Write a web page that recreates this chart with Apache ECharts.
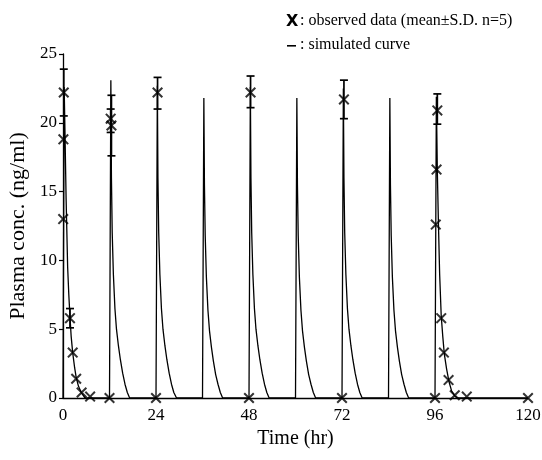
<!DOCTYPE html>
<html>
<head>
<meta charset="utf-8">
<script src="https://cdn.jsdelivr.net/npm/echarts@6/dist/echarts.min.js"></script>
<style>
html,body{margin:0;padding:0;background:#fff;}
#chart{width:542px;height:460px;}
</style>
</head>
<body>
<div id="chart"></div>
<script>
// ---- Data ----
const xTicks = [0, 24, 48, 72, 96, 120];
const yTicks = [0, 5, 10, 15, 20, 25];

// simulated curve (time hr, conc ng/ml)
const simCurve = [
  [0,0],[0.3,22.6],[0.5,19.5],[0.8,14.5],[1.2,9.5],[1.5,7.5],[1.8,5.9],[2.1,4.5],[2.5,3.3],[3.0,2.2],[3.4,1.5],[4.0,0.85],[4.8,0.35],[5.7,0],
  [12,0],[12.35,23.1],[12.5,16],[12.7,12],[13.0,9],[13.4,6.5],[13.8,5.0],[14.3,3.8],[14.8,2.8],[15.4,1.8],[16.0,1.0],[16.6,0.4],[17.2,0],
  [24,0],[24.35,22.7],[24.5,16],[24.7,12],[25.0,9],[25.4,6.5],[25.8,5.0],[26.3,3.8],[26.8,2.8],[27.4,1.8],[28.0,1.0],[28.6,0.4],[29.3,0],
  [36,0],[36.35,21.8],[36.5,15.5],[36.7,11.8],[37.0,8.8],[37.4,6.4],[37.8,4.9],[38.3,3.7],[38.8,2.7],[39.4,1.7],[40.0,1.0],[40.6,0.4],[41.2,0],
  [48,0],[48.35,22.6],[48.5,16],[48.7,12],[49.0,9],[49.4,6.5],[49.8,5.0],[50.3,3.8],[50.8,2.8],[51.4,1.8],[52.0,1.0],[52.6,0.4],[53.2,0],
  [60,0],[60.35,21.8],[60.5,15.5],[60.7,11.8],[61.0,8.8],[61.4,6.4],[61.8,4.9],[62.3,3.7],[62.8,2.7],[63.4,1.7],[64.0,1.0],[64.6,0.4],[65.2,0],
  [72,0],[72.35,22.5],[72.5,16],[72.7,12],[73.0,9],[73.4,6.5],[73.8,5.0],[74.3,3.8],[74.8,2.8],[75.4,1.8],[76.0,1.0],[76.6,0.4],[77.2,0],
  [84,0],[84.35,21.8],[84.5,15.5],[84.7,11.8],[85.0,8.8],[85.4,6.4],[85.8,4.9],[86.3,3.7],[86.8,2.7],[87.4,1.7],[88.0,1.0],[88.6,0.4],[89.2,0],
  [96,0],[96.35,21.9],[96.6,16.5],[96.9,12.5],[97.2,9],[97.6,6.0],[98.0,4.5],[98.4,3.2],[99.0,2.1],[99.6,1.2],[100.3,0.5],[101.1,0.15],[101.8,0],
  [120,0]
];

// observed data: time, mean, S.D. low, S.D. high (null = no bar)
const obsTime = [0.05, 0.1, 0.2, 1.8, 2.5, 3.4, 4.8, 7.0,
                 12, 12.3, 12.5,
                 24, 24.4,
                 48, 48.4,
                 72, 72.5,
                 96, 96.2, 96.4, 96.6, 97.6, 98.3, 99.5, 101.1, 104.2,
                 120];
const obsMean = [13.0, 18.8, 22.2, 5.8, 3.3, 1.4, 0.4, 0.1,
                 0, 20.3, 19.8,
                 0, 22.2,
                 0, 22.2,
                 0, 21.7,
                 0, 12.6, 16.6, 20.9, 5.8, 3.3, 1.3, 0.2, 0.1,
                 0];
const obsLow  = [null, null, 20.5, 5.1, null, null, null, null,
                 null, 19.3, 17.6,
                 null, 21.0,
                 null, 21.1,
                 null, 20.3,
                 null, null, null, 19.9, null, null, null, null, null,
                 null];
const obsHigh = [null, null, 23.9, 6.5, null, null, null, null,
                 null, 21.0, 22.0,
                 null, 23.3,
                 null, 23.4,
                 null, 23.1,
                 null, null, null, 22.1, null, null, null, null, null,
                 null];

// ---- Build the chart ----
const FONT = 'Liberation Serif';
const obsPoints = obsTime.map((t, i) => [t, obsMean[i]]);
const errBars = [];
obsTime.forEach((t, i) => { if (obsLow[i] !== null) errBars.push([t, obsLow[i], obsHigh[i]]); });

const crossPath = 'path://M0,1.3L1.3,0L5,3.7L8.7,0L10,1.3L6.3,5L10,8.7L8.7,10L5,6.3L1.3,10L0,8.7L3.7,5Z';

const chart = echarts.init(document.getElementById('chart'), null, {renderer: 'canvas'});
chart.setOption({
  animation: false,
  backgroundColor: '#fff',
  grid: {left: 63, right: 14, top: 54, bottom: 62, containLabel: false, outerBoundsMode: 'none'},
  xAxis: {
    type: 'value', min: 0, max: 120, interval: 24,
    name: 'Time (hr)', nameLocation: 'middle', nameGap: 28,
    nameTextStyle: {fontFamily: FONT, fontSize: 20, color: '#000'},
    axisLine: {lineStyle: {color: '#000', width: 1.3}},
    axisTick: {show: false},
    axisLabel: {fontFamily: FONT, fontSize: 17, color: '#000', margin: 9,
      formatter: v => xTicks.includes(v) ? String(v) : ''},
    splitLine: {show: false}
  },
  yAxis: {
    type: 'value', min: 0, max: 25, interval: 5,
    name: 'Plasma conc. (ng/ml)', nameLocation: 'middle', nameGap: 34,
    nameTextStyle: {fontFamily: FONT, fontSize: 22, color: '#000'},
    axisLine: {show: true, lineStyle: {color: '#000', width: 1.3}},
    axisTick: {show: true, length: 4, lineStyle: {color: '#000', width: 1.2}},
    axisLabel: {fontFamily: FONT, fontSize: 17, color: '#000', margin: 6,
      formatter: v => yTicks.includes(v) ? String(v) : ''},
    splitLine: {show: false}
  },
  graphic: [
    {type: 'text', left: 286, top: 14, style: {text: 'X', font: 'bold 16px "DejaVu Sans"', fill: '#000'}},
    {type: 'text', left: 300, top: 13, style: {text: ': observed data (mean\u00B1S.D. n=5)', font: '16px "Liberation Serif"', fill: '#000'}},
    {type: 'rect', shape: {x: 287, y: 45, width: 9, height: 1.6}, style: {fill: '#000'}},
    {type: 'text', left: 300, top: 37, style: {text: ': simulated curve', font: '16px "Liberation Serif"', fill: '#000'}}
  ],
  series: [
    {
      type: 'line', data: simCurve, showSymbol: false, symbol: 'none',
      lineStyle: {color: '#000', width: 1.3}, z: 2
    },
    {
      type: 'custom', data: errBars, encode: {x: 0, y: [1, 2]}, z: 3,
      renderItem: function (params, api) {
        const x = api.value(0);
        const pLo = api.coord([x, api.value(1)]);
        const pHi = api.coord([x, api.value(2)]);
        const w = 4;
        const st = {stroke: '#000', lineWidth: 1.7};
        return {type: 'group', children: [
          {type: 'line', shape: {x1: pLo[0], y1: pLo[1], x2: pHi[0], y2: pHi[1]}, style: st},
          {type: 'line', shape: {x1: pLo[0] - w, y1: pLo[1], x2: pLo[0] + w, y2: pLo[1]}, style: st},
          {type: 'line', shape: {x1: pHi[0] - w, y1: pHi[1], x2: pHi[0] + w, y2: pHi[1]}, style: st}
        ]};
      }
    },
    {
      type: 'scatter', data: obsPoints, symbol: crossPath, symbolSize: 11,
      itemStyle: {color: '#000'}, z: 4
    }
  ]
});
</script>
</body>
</html>
